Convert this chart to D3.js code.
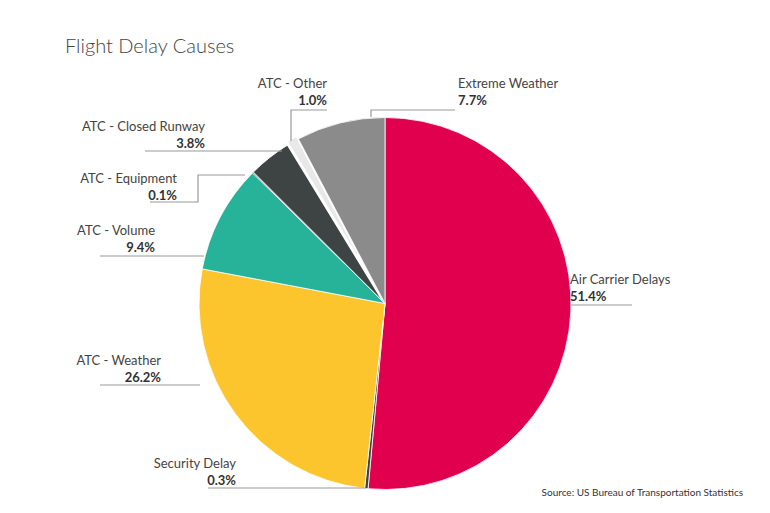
<!DOCTYPE html>
<html><head><meta charset="utf-8">
<script src="https://cdn.jsdelivr.net/npm/d3@7"></script>
<style>body{margin:0;background:#fff}text{font-family:Lato,"Open Sans",sans-serif}</style>
</head><body><svg id="c" width="770" height="513"></svg>
<script>
const categories=["Air Carrier Delays","Security Delay","ATC - Weather","ATC - Volume","ATC - Equipment","ATC - Closed Runway","ATC - Other","Extreme Weather"];
const values=[51.4,0.3,26.2,9.4,0.1,3.8,1.0,7.7];
const labels=["51.4%","0.3%","26.2%","9.4%","0.1%","3.8%","1.0%","7.7%"];
const colors=["#e0004d","#3d4443","#fcc42d","#26b39a","#3d4443","#3d4443","#e8e8e8","#8a8b8a"];
const svg=d3.select("#c");
const cx=385,cy=303.5,r=186;
const pie=d3.pie().sort(null)(values);
const arc=d3.arc().innerRadius(0).outerRadius(r);
const g=svg.append("g").attr("transform",`translate(${cx},${cy})`);
g.selectAll("path").data(pie).join("path")
 .attr("d",arc).attr("fill",(d,i)=>colors[i]).attr("stroke","#fff").attr("stroke-width",(d,i)=>i==6?3:0.8)
 .attr("transform",(d,i)=>{if(i!==6)return null;const a=(d.startAngle+d.endAngle)/2;return `translate(${Math.sin(a)*4},${-Math.cos(a)*4})`;});
svg.append("text").attr("x",65).attr("y",53).attr("font-size",20).attr("fill","#444").attr("font-weight",300).text("Flight Delay Causes");
svg.append("text").attr("x",743).attr("y",496).attr("text-anchor","end").attr("font-size",10).attr("fill","#333").text("Source: US Bureau of Transportation Statistics");
// label layout: [x, y of name, anchor, leader polyline]
const lay=[
 [570,284,"start",[[571,305],[632,305]]],
 [236,468,"end",[[366,488],[208,488]]],
 [161,365,"end",[[200,385],[100,385]]],
 [155,235,"end",[[204,256],[100,256]]],
 [177,183,"end",[[245,175],[198,175],[198,202],[150,202]]],
 [205,131,"end",[[282,151],[145,151]]],
 [327,88,"end",[[291,141],[291,110],[327,110]]],
 [458,88,"start",[[371,117],[371,110],[455,110]]]
];
lay.forEach((l,i)=>{
 svg.append("path").attr("d",d3.line()(l[3])).attr("fill","none").attr("stroke","#999").attr("stroke-width",1.2);
 svg.append("text").attr("x",l[0]).attr("y",l[1]).attr("text-anchor",l[2]).attr("font-size",13).attr("fill","#444").text(categories[i]);
 svg.append("text").attr("x",l[0]).attr("y",l[1]+17).attr("text-anchor",l[2]).attr("font-size",13).attr("font-weight",700).attr("fill","#333").text(labels[i]);
});
</script></body></html>
